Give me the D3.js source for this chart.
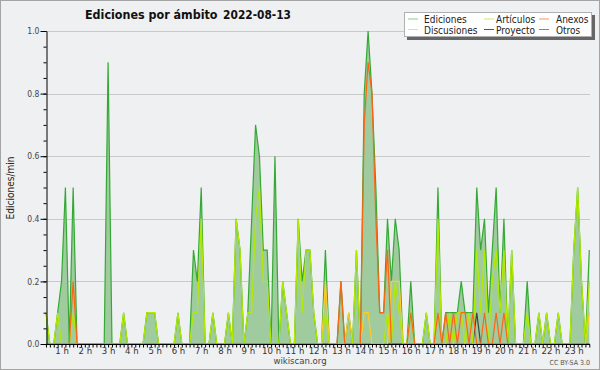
<!DOCTYPE html>
<html>
<head>
<meta charset="utf-8">
<script src="https://cdn.jsdelivr.net/npm/d3@7"></script>
<style>
  html, body { margin: 0; padding: 0; background: #eff0f1; }
  svg { display: block; }
  text { font-family: "DejaVu Sans Condensed", "DejaVu Sans", sans-serif; }
</style>
</head>
<body>
<script>
// 10 minute bins, first one at 00:20, last one at 23:40
var startTime = new Date(2022, 7, 13, 0, 20);
var binMinutes = 10;

// edits per minute, one value per bin
var ediciones = [
  0.1, 0, 0, 0.1, 0.2, 0.5, 0, 0.5, 0, 0,
  0, 0, 0, 0, 0, 0, 0.9, 0, 0, 0,
  0.1, 0, 0, 0, 0, 0, 0.1, 0.1, 0.1, 0,
  0, 0, 0, 0, 0.1, 0, 0, 0, 0.3, 0.2,
  0.5, 0, 0, 0.1, 0, 0, 0, 0.1, 0, 0.4,
  0.3, 0, 0.1, 0.4, 0.7, 0.6, 0.3, 0.3, 0, 0.6,
  0, 0.2, 0.1, 0, 0, 0.4, 0.2, 0.3, 0.3, 0.1,
  0, 0, 0.3, 0, 0, 0, 0.2, 0, 0.1, 0,
  0.3, 0, 0.8, 1.0, 0.8, 0.5, 0.1, 0.1, 0.4, 0.2,
  0.4, 0.3, 0, 0, 0.2, 0, 0, 0, 0.1, 0,
  0, 0.5, 0, 0.1, 0.1, 0.1, 0.1, 0.2, 0.1, 0.1,
  0.1, 0.5, 0.3, 0.4, 0.1, 0.3, 0.5, 0.1, 0.4, 0,
  0.3, 0, 0, 0, 0.2, 0, 0, 0.1, 0, 0.1,
  0, 0, 0.1, 0, 0, 0, 0.3, 0.5, 0.2, 0,
  0.3
];
var articulos = [
  0.1, 0, 0, 0.1, 0, 0, 0, 0.1, 0, 0,
  0, 0, 0, 0, 0, 0, 0, 0, 0, 0,
  0.1, 0, 0, 0, 0, 0, 0.1, 0.1, 0.1, 0,
  0, 0, 0, 0, 0.1, 0, 0, 0, 0.1, 0.1,
  0.4, 0, 0, 0.1, 0, 0, 0, 0.1, 0, 0.4,
  0.3, 0, 0.1, 0.1, 0.4, 0.5, 0.2, 0.2, 0, 0,
  0, 0.2, 0.1, 0, 0, 0.4, 0.1, 0.3, 0.3, 0.1,
  0, 0, 0.1, 0, 0, 0, 0, 0, 0, 0,
  0.3, 0, 0, 0, 0, 0, 0, 0, 0.1, 0,
  0.2, 0.1, 0, 0, 0.1, 0, 0, 0, 0.1, 0,
  0, 0.4, 0, 0, 0.1, 0, 0.1, 0.1, 0, 0.1,
  0, 0.3, 0.1, 0.3, 0, 0.2, 0.3, 0.1, 0.3, 0,
  0.3, 0, 0, 0, 0.1, 0, 0, 0.1, 0, 0.1,
  0, 0, 0.1, 0, 0, 0, 0.3, 0.5, 0.2, 0,
  0.2
];
var anexos = [
  0, 0, 0, 0, 0, 0, 0, 0.2, 0, 0,
  0, 0, 0, 0, 0, 0, 0, 0, 0, 0,
  0, 0, 0, 0, 0, 0, 0, 0, 0, 0,
  0, 0, 0, 0, 0, 0, 0, 0, 0, 0,
  0, 0, 0, 0, 0, 0, 0, 0, 0, 0,
  0, 0, 0, 0, 0, 0, 0, 0, 0, 0,
  0, 0, 0, 0, 0, 0, 0, 0, 0, 0,
  0, 0, 0, 0, 0, 0, 0.2, 0, 0, 0,
  0, 0, 0.7, 0.9, 0.8, 0.4, 0.1, 0.1, 0.3, 0,
  0, 0, 0, 0, 0.1, 0, 0, 0, 0, 0,
  0, 0.1, 0, 0.1, 0, 0.1, 0, 0.1, 0.1, 0,
  0.1, 0, 0, 0.1, 0, 0, 0.1, 0, 0.1, 0,
  0, 0, 0, 0, 0, 0, 0, 0, 0, 0,
  0, 0, 0, 0, 0, 0, 0, 0, 0, 0,
  0
];
var discusiones = [
  0, 0, 0, 0, 0, 0, 0, 0, 0, 0,
  0, 0, 0, 0, 0, 0, 0, 0, 0, 0,
  0, 0, 0, 0, 0, 0, 0, 0, 0, 0,
  0, 0, 0, 0, 0, 0, 0, 0, 0, 0,
  0, 0, 0, 0, 0, 0, 0, 0, 0, 0,
  0, 0, 0, 0, 0, 0, 0, 0, 0, 0,
  0, 0, 0, 0, 0, 0, 0, 0, 0, 0,
  0, 0, 0.2, 0, 0, 0, 0, 0, 0.1, 0,
  0, 0, 0.1, 0.1, 0, 0, 0, 0, 0, 0.2,
  0.2, 0.2, 0, 0, 0, 0, 0, 0, 0, 0,
  0, 0, 0, 0, 0, 0, 0, 0, 0, 0,
  0, 0, 0, 0, 0, 0, 0, 0, 0, 0,
  0, 0, 0, 0, 0, 0, 0, 0, 0, 0,
  0, 0, 0, 0, 0, 0, 0, 0, 0, 0,
  0.1
];
var proyecto = [
  0, 0, 0, 0, 0, 0, 0, 0, 0, 0,
  0, 0, 0, 0, 0, 0, 0, 0, 0, 0,
  0, 0, 0, 0, 0, 0, 0, 0, 0, 0,
  0, 0, 0, 0, 0, 0, 0, 0, 0, 0,
  0, 0, 0, 0, 0, 0, 0, 0, 0, 0,
  0, 0, 0, 0, 0, 0, 0, 0, 0, 0,
  0, 0, 0, 0, 0, 0, 0, 0, 0, 0,
  0, 0, 0, 0, 0, 0, 0, 0, 0, 0,
  0, 0, 0, 0, 0, 0, 0, 0, 0, 0,
  0, 0, 0, 0, 0, 0, 0, 0, 0, 0,
  0, 0, 0, 0, 0, 0, 0, 0, 0, 0,
  0, 0.1, 0, 0, 0, 0, 0, 0, 0, 0,
  0, 0, 0, 0, 0, 0, 0, 0, 0, 0,
  0, 0, 0, 0, 0, 0, 0, 0, 0, 0,
  0
];
var otros = ediciones.map(function () { return 0; });

var yTicks = [0, 0.2, 0.4, 0.6, 0.8, 1.0];

var times = ediciones.map(function (d, i) {
  return d3.timeMinute.offset(startTime, i * binMinutes);
});

// lines drawn over the total area, in drawing order
var lines = [
  { name: 'Otros', values: otros, color: '#8040ff' },
  { name: 'Proyecto', values: proyecto, color: '#404040' },
  { name: 'Discusiones', values: discusiones, color: '#ffcc22' },
  { name: 'Artículos', values: articulos, color: '#b2ea00' },
  { name: 'Anexos', values: anexos, color: '#ff6414' }
];

// legend, row by row
var legendItems = [
  { name: 'Ediciones', color: '#88cc88' },
  { name: 'Artículos', color: '#ccee66' },
  { name: 'Anexos', color: '#ff9060' },
  { name: 'Discusiones', color: '#ffdd55' },
  { name: 'Proyecto', color: '#555555' },
  { name: 'Otros', color: '#9966ee' }
];

var svgWidth = 600;
var svgHeight = 370;

var svg = d3.select('body')
  .append('svg')
  .attr('width', svgWidth)
  .attr('height', svgHeight);

svg.append('rect')
  .attr('x', 0.5).attr('y', 0.5)
  .attr('width', svgWidth - 1).attr('height', svgHeight - 1)
  .attr('fill', '#eff0f1')
  .attr('stroke', '#a4a4a4');

var xScale = d3.scaleTime()
  .domain([times[0], times[times.length - 1]])
  .range([46, 589.3]);
var yScale = d3.scaleLinear()
  .domain([0, 1])
  .range([344, 31]);

// grid
svg.append('g')
  .selectAll('line')
  .data(yTicks.slice(1))
  .enter().append('line')
  .attr('x1', 46).attr('x2', 590)
  .attr('y1', d => Math.round(yScale(d)) + 0.5)
  .attr('y2', d => Math.round(yScale(d)) + 0.5)
  .attr('stroke', '#c9c9c9');

// total area and its outline
var area = d3.area()
  .x((d, i) => xScale(times[i]))
  .y0(yScale(0))
  .y1(d => yScale(d));
var line = d3.line()
  .x((d, i) => xScale(times[i]))
  .y(d => yScale(d));

svg.append('path')
  .datum(ediciones)
  .attr('fill', '#9fcb9f')
  .attr('d', area);

svg.append('path')
  .datum(ediciones)
  .attr('fill', 'none')
  .attr('stroke', '#34aa34')
  .attr('stroke-width', 1.2)
  .attr('d', line);

lines.forEach(function (s) {
  svg.append('path')
    .datum(s.values)
    .attr('fill', 'none')
    .attr('stroke', s.color)
    .attr('stroke-width', 1.2)
    .attr('d', line);
});

// axes
var xMinor = svg.append('g')
  .attr('transform', 'translate(0,344.5)')
  .call(d3.axisBottom(xScale)
    .ticks(d3.timeMinute.every(10))
    .tickSize(3).tickSizeOuter(0)
    .tickFormat(''));
xMinor.select('.domain').attr('d', 'M46,0H590');

var xHours = svg.append('g')
  .attr('transform', 'translate(0,344)')
  .call(d3.axisBottom(xScale)
    .ticks(d3.timeHour.every(1))
    .tickSize(0).tickPadding(3.5)
    .tickFormat(d3.timeFormat('%-H h')));
xHours.select('.domain').remove();
xHours.selectAll('text')
  .attr('font-family', '"DejaVu Sans Condensed", "DejaVu Sans", sans-serif')
  .attr('font-size', 9.5)
  .attr('fill', '#333');

var yMinor = svg.append('g')
  .attr('transform', 'translate(46.5,0)')
  .call(d3.axisLeft(yScale)
    .tickValues(d3.range(0, 1.001, 0.05))
    .tickSize(3).tickSizeOuter(0)
    .tickFormat(''));

var yMajor = svg.append('g')
  .attr('transform', 'translate(46.5,0)')
  .call(d3.axisLeft(yScale)
    .tickValues(yTicks)
    .tickSize(6).tickSizeOuter(0).tickPadding(1)
    .tickFormat(d3.format('.1f')));
yMajor.select('.domain').remove();
yMajor.selectAll('text')
  .attr('font-family', '"DejaVu Sans Condensed", "DejaVu Sans", sans-serif')
  .attr('font-size', 8.5)
  .attr('fill', '#444');

// titles
svg.append('text')
  .attr('x', 85).attr('y', 18.5)
  .attr('font-size', 12.4).attr('font-weight', 'bold')
  .attr('fill', '#111')
  .text('Ediciones por ámbito');
svg.append('text')
  .attr('x', 291).attr('y', 18.5)
  .attr('text-anchor', 'end')
  .attr('font-size', 11.8).attr('font-weight', 'bold')
  .attr('fill', '#111')
  .text('2022-08-13');

svg.append('text')
  .attr('transform', 'translate(13.5,188) rotate(-90)')
  .attr('text-anchor', 'middle')
  .attr('font-family', '"DejaVu Sans Mono", monospace')
  .attr('font-size', 10)
  .attr('fill', '#222')
  .text('Ediciones/min');

svg.append('text')
  .attr('x', 300).attr('y', 364)
  .attr('text-anchor', 'middle')
  .attr('font-size', 9.5)
  .attr('fill', '#444')
  .text('wikiscan.org');

svg.append('text')
  .attr('x', 590).attr('y', 365)
  .attr('text-anchor', 'end')
  .attr('font-size', 7)
  .attr('fill', '#555')
  .text('CC BY-SA 3.0');

// legend box with shadow
var legend = svg.append('g').attr('transform', 'translate(404,12)');
legend.append('rect')
  .attr('x', 3).attr('y', 3).attr('width', 188).attr('height', 25)
  .attr('fill', '#666');
legend.append('rect')
  .attr('x', 0.5).attr('y', 0.5).attr('width', 187).attr('height', 24)
  .attr('fill', '#fff').attr('stroke', '#b0b0b0');

var colLine = [4, 80, 135];
var colText = [20, 92, 152];
legendItems.forEach(function (d, i) {
  var col = i % 3, row = Math.floor(i / 3);
  var yy = 7 + row * 10.5;
  legend.append('line')
    .attr('x1', colLine[col]).attr('x2', colLine[col] + 10)
    .attr('y1', yy).attr('y2', yy)
    .attr('stroke', d.color).attr('stroke-width', 1);
  legend.append('text')
    .attr('x', colText[col]).attr('y', yy + 4)
    .attr('font-size', 10)
    .attr('fill', '#222')
    .text(d.name);
});
</script>
</body>
</html>
